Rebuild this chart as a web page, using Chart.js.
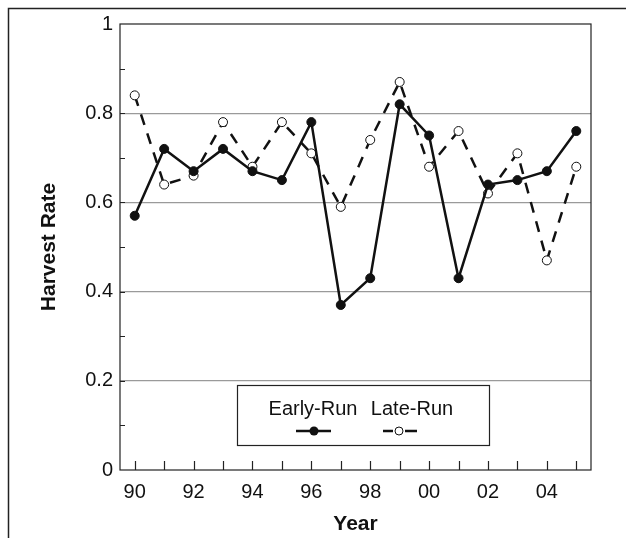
<!DOCTYPE html>
<html>
<head>
<meta charset="utf-8">
<script src="https://cdn.jsdelivr.net/npm/chart.js@4/dist/chart.umd.min.js"></script>
<style>
  html, body { margin: 0; padding: 0; background: #fff; }
  #wrap { width: 626px; height: 538px; }
</style>
</head>
<body>
<div id="wrap"><canvas id="harvestChart" width="626" height="538"></canvas></div>
<script>
// Harvest rate by year, early-run vs late-run

const years = [1990, 1991, 1992, 1993, 1994, 1995, 1996, 1997, 1998, 1999, 2000, 2001, 2002, 2003, 2004, 2005];
const earlyRun = [0.57, 0.72, 0.67, 0.72, 0.67, 0.65, 0.78, 0.37, 0.43, 0.82, 0.75, 0.43, 0.64, 0.65, 0.67, 0.76];
const lateRun = [0.84, 0.64, 0.66, 0.78, 0.68, 0.78, 0.71, 0.59, 0.74, 0.87, 0.68, 0.76, 0.62, 0.71, 0.47, 0.68];
const seriesLabels = ['Early-Run', 'Late-Run'];

const FONT = '"Liberation Sans", Arial, sans-serif';
const INK = '#111';

// Format year as two digits (90, 92, ... 00, 02)
function yearLabel(v) {
  const y = Math.round(v);
  if (y % 2 !== 0) return '';
  return String(y % 100).padStart(2, '0');
}

function rateLabel(v) {
  const t = Math.round(v * 10);
  if (t % 2 !== 0) return '';
  if (t === 0) return '0';
  if (t === 10) return '1';
  return (t / 10).toFixed(1);
}

// Outer frame, plot box, inside tick marks and the legend box
const framePlugin = {
  id: 'framePlugin',
  beforeDraw(chart) {
    const ctx = chart.ctx;
    ctx.save();
    ctx.fillStyle = '#fff';
    ctx.fillRect(0, 0, chart.width, chart.height);
    ctx.strokeStyle = '#222';
    ctx.lineWidth = 1.5;
    ctx.beginPath();
    ctx.moveTo(8.5, chart.height);
    ctx.lineTo(8.5, 8.5);
    ctx.lineTo(chart.width, 8.5);
    ctx.stroke();
    ctx.restore();
  },
  beforeDatasetsDraw(chart) {
    const { ctx, chartArea: a, scales } = chart;
    ctx.save();
    ctx.strokeStyle = '#222';
    ctx.lineWidth = 1.2;
    ctx.strokeRect(a.left, a.top, a.right - a.left, a.bottom - a.top);

    // year ticks pointing up from the x axis
    ctx.beginPath();
    years.forEach(y => {
      const px = Math.round(scales.x.getPixelForValue(y)) + 0.5;
      ctx.moveTo(px, a.bottom);
      ctx.lineTo(px, a.bottom - 9);
    });
    // y ticks pointing right from the y axis
    for (let i = 1; i < 10; i++) {
      const py = Math.round(scales.y.getPixelForValue(i / 10)) + 0.5;
      ctx.moveTo(a.left, py);
      ctx.lineTo(a.left + 5, py);
    }
    ctx.stroke();
    ctx.restore();
  },
  afterDatasetsDraw(chart) {
    const ctx = chart.ctx;
    const box = { x: 237, y: 385, w: 252, h: 60 };
    ctx.save();
    ctx.fillStyle = '#fff';
    ctx.fillRect(box.x, box.y, box.w, box.h);
    ctx.strokeStyle = '#222';
    ctx.lineWidth = 1.2;
    ctx.strokeRect(box.x + 0.5, box.y + 0.5, box.w, box.h);

    ctx.fillStyle = INK;
    ctx.font = '20px ' + FONT;
    ctx.textAlign = 'center';
    ctx.textBaseline = 'middle';
    ctx.fillText(seriesLabels[0], 313, 409);
    ctx.fillText(seriesLabels[1], 412, 409);

    // early-run sample
    ctx.strokeStyle = INK;
    ctx.lineWidth = 2.5;
    ctx.beginPath();
    ctx.moveTo(296, 431);
    ctx.lineTo(331, 431);
    ctx.stroke();
    ctx.beginPath();
    ctx.arc(314, 431, 4.5, 0, Math.PI * 2);
    ctx.fill();

    // late-run sample
    ctx.beginPath();
    ctx.moveTo(383, 431);
    ctx.lineTo(393, 431);
    ctx.moveTo(405, 431);
    ctx.lineTo(417, 431);
    ctx.stroke();
    ctx.lineWidth = 1;
    ctx.fillStyle = '#fff';
    ctx.beginPath();
    ctx.arc(399, 431, 4, 0, Math.PI * 2);
    ctx.fill();
    ctx.stroke();
    ctx.restore();
  }
};

const chart = new Chart(document.getElementById('harvestChart').getContext('2d'), {
  type: 'line',
  data: {
    datasets: [
      {
        label: seriesLabels[0],
        data: years.map((y, i) => ({ x: y, y: earlyRun[i] })),
        borderColor: INK,
        borderWidth: 2.5,
        pointRadius: 4.5,
        pointBackgroundColor: INK,
        pointBorderColor: INK,
        pointBorderWidth: 1,
        tension: 0
      },
      {
        label: seriesLabels[1],
        data: years.map((y, i) => ({ x: y, y: lateRun[i] })),
        borderColor: INK,
        borderWidth: 2.5,
        borderDash: [11, 9],
        pointRadius: 4.5,
        pointBackgroundColor: '#fff',
        pointBorderColor: INK,
        pointBorderWidth: 1,
        tension: 0
      }
    ]
  },
  options: {
    responsive: false,
    devicePixelRatio: 1,
    animation: false,
    layout: {
      padding: { left: 37, right: 35, top: 24, bottom: 0 }
    },
    plugins: {
      legend: { display: false },
      tooltip: { enabled: false }
    },
    scales: {
      x: {
        type: 'linear',
        min: 1989.5,
        max: 2005.5,
        afterFit: scale => { scale.height = 68; },
        afterBuildTicks: scale => {
          scale.ticks = years.map(v => ({ value: v }));
        },
        ticks: {
          autoSkip: false,
          maxRotation: 0,
          padding: 10,
          color: INK,
          font: { family: FONT, size: 20 },
          callback: v => yearLabel(v)
        },
        grid: { display: false, drawTicks: false },
        border: { display: false },
        title: {
          display: true,
          text: 'Year',
          color: INK,
          font: { family: FONT, size: 21, weight: 'bold' },
          padding: { top: 0, bottom: 1 }
        }
      },
      y: {
        min: 0,
        max: 1,
        afterFit: scale => { scale.width = 83; },
        ticks: {
          stepSize: 0.1,
          padding: 7,
          color: INK,
          font: { family: FONT, size: 20 },
          callback: v => rateLabel(v)
        },
        grid: {
          drawTicks: false,
          lineWidth: 1.2,
          color: c => {
            const t = Math.round(c.tick.value * 10);
            return (t % 2 === 0 && t > 0 && t < 10) ? '#9a9a9a' : 'rgba(0,0,0,0)';
          }
        },
        border: { display: false },
        title: {
          display: true,
          text: 'Harvest Rate',
          color: INK,
          font: { family: FONT, size: 21, weight: 'bold' },
          padding: { top: 0, bottom: 0 }
        }
      }
    }
  },
  plugins: [framePlugin]
});
</script>
</body>
</html>
